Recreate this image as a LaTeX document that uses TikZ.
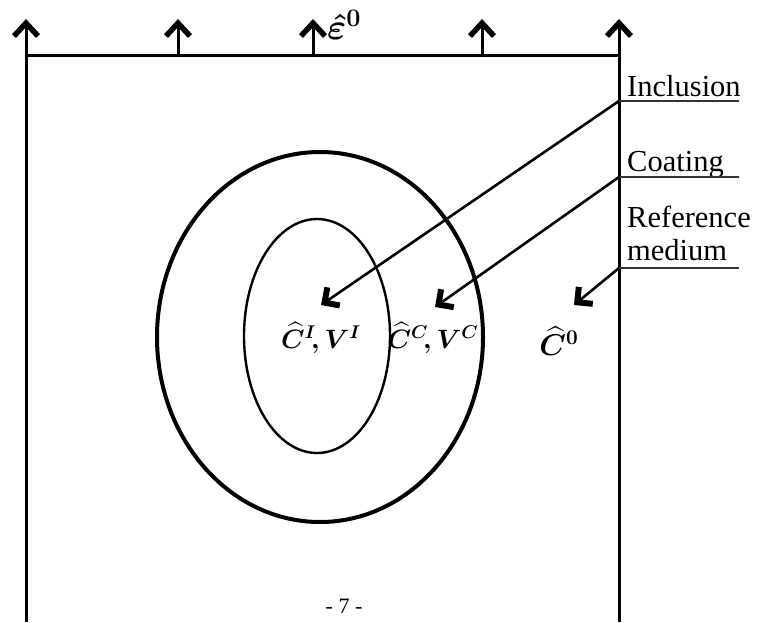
\documentclass[tikz,border=0pt]{standalone}
\usepackage{amsmath}
\usepackage{bm}
\usepackage{graphicx}
\usepackage[no-math]{fontspec}
\setmainfont{Liberation Serif}
\usetikzlibrary{arrows.meta}
\newcommand{\mylabmath}[2][1.28]{\scalebox{#1}{\huge\boldmath$#2$}}
\tikzset{
  frame/.style={line width=3pt},
  uparrow/.style={line width=3pt,-{Straight Barb[length=13pt,width=24pt,line width=5.5pt]}},
  leader/.style={line width=2.6pt,-{Straight Barb[length=11pt,width=22pt,line width=6pt]}},
  uline/.style={line width=1.5pt,draw=black!80},
  lbl/.style={anchor=base west,inner sep=0pt,font=\fontsize{30.5}{33}\selectfont,align=left},
  mathlbl/.style={inner sep=0pt},
}
\begin{document}
\begin{tikzpicture}[x=1pt,y=-1pt]
\useasboundingbox (0,0) rectangle (759,622);
% frame
\coordinate (tl) at (26,55);
\coordinate (tr) at (619,55);
\coordinate (bl) at (26,622);
\coordinate (br) at (619,622);
\draw[frame] (tl) -- (tr);
\draw[frame] (tl) -- (bl);
\draw[frame] (tr) -- (br);
% loading arrows
\foreach \x/\n in {26/a,178/b,313/c,482/d,619/e}{
  \coordinate (base\n) at (\x,55);
  \coordinate (tip\n) at (\x,19);
  \draw[uparrow] (base\n) -- (tip\n);
}
\node[mathlbl,anchor=west] (eps) at (327,25) {\mylabmath[1.75]{\hat{\bm{\varepsilon}}^{\bm{0}}}};
% ellipses
\draw[line width=4pt] (320,337) ellipse [x radius=163pt, y radius=185pt];
\draw[line width=2.4pt] (317,336) ellipse [x radius=73pt, y radius=117pt];
% labels
\node[lbl] (incl) at (627,96) {Inclusion};
\node[lbl] (coat) at (627,171) {Coating};
\node[lbl] (ref) at (627,227) {Reference};
\node[lbl] (med) at (627,260) {medium};
\coordinate (u1a) at (619,101); \coordinate (u1b) at (739,101);
\coordinate (u2a) at (619,177); \coordinate (u2b) at (739,177);
\coordinate (u3a) at (619,268); \coordinate (u3b) at (739,268);
\draw[uline] (u1a) -- (u1b);
\draw[uline] (u2a) -- (u2b);
\draw[uline] (u3a) -- (u3b);
% math labels
\node[mathlbl] (ci) at (321,338) {\mylabmath{\widehat{\bm{C}}^{\bm{I}}\!,\bm{V}^{\bm{I}}}};
\node[mathlbl] (cc) at (433,338) {\mylabmath{\widehat{\bm{C}}^{\bm{C}}\!,\bm{V}^{\bm{C}}}};
\node[mathlbl] (c0) at (559,341) {\mylabmath[1.45]{\widehat{\bm{C}}^{\bm{0}}}};
% leaders
\coordinate (t1) at (321,305);
\coordinate (t2) at (435,307);
\coordinate (t3) at (574,305);
\draw[leader] (u1a) -- (t1);
\draw[leader] (u2a) -- (t2);
\draw[leader] (u3a) -- (t3);
% page number
\node[anchor=base,inner sep=0pt,font=\fontsize{22}{24}\selectfont] (pg) at (344,613) {- 7 -};
\end{tikzpicture}
\end{document}
